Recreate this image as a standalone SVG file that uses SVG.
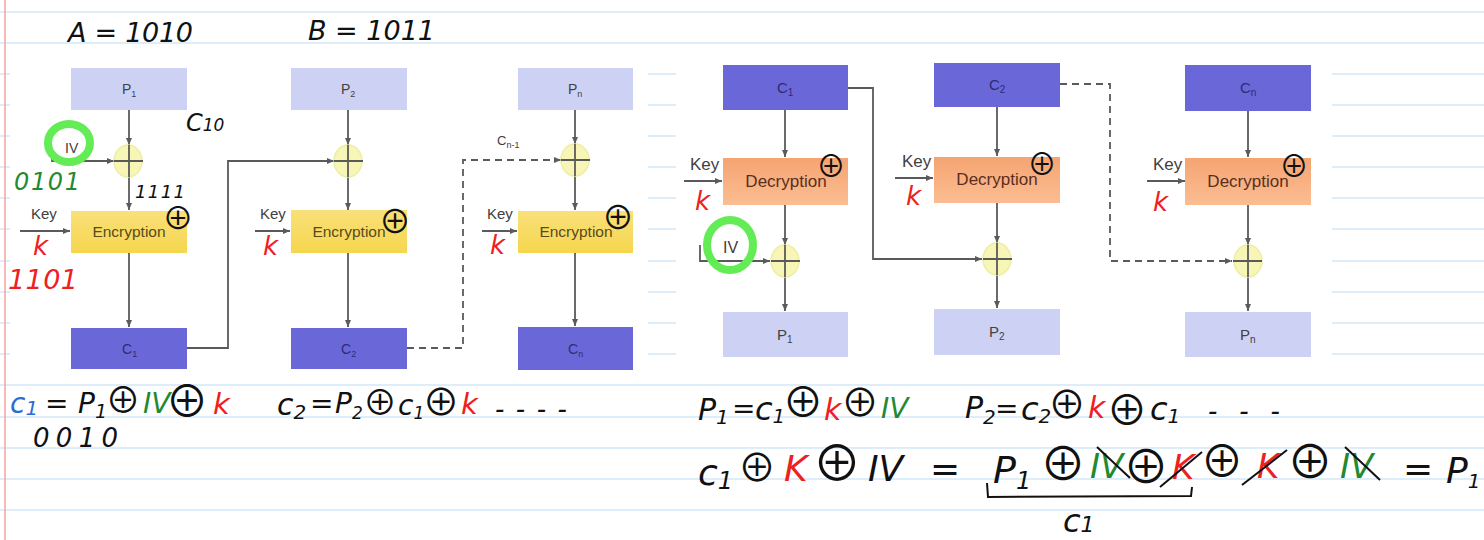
<svg xmlns="http://www.w3.org/2000/svg" width="1484" height="540" viewBox="0 0 1484 540">
<defs>
<marker id="arr" markerWidth="8" markerHeight="8" refX="7" refY="4" orient="auto" markerUnits="userSpaceOnUse"><path d="M0,1 L7,4 L0,7 Z" fill="#5a5a5a"/></marker>
<linearGradient id="gEnc" x1="0" y1="0" x2="0" y2="1"><stop offset="0" stop-color="#f9e07a"/><stop offset="1" stop-color="#f6d64e"/></linearGradient>
<linearGradient id="gDec" x1="0" y1="0" x2="0" y2="1"><stop offset="0" stop-color="#f5a472"/><stop offset="1" stop-color="#fbbd92"/></linearGradient>
<style>
.rule{stroke:#d2e9f8;stroke-width:1.5}
.bp{fill:#cdd2f5}
.bc{fill:#6a67d8}
.be{fill:url(#gEnc)}
.bd{fill:url(#gDec)}
.xe{fill:#f8f6b0;stroke:#ecec9a;stroke-width:1.5;opacity:0.9}
.c{stroke:#5a5a5a;stroke-width:1.8;fill:none}
.cd{stroke:#5a5a5a;stroke-width:1.8;fill:none;stroke-dasharray:7,5}
.lb{font-family:"Liberation Sans",Arial,sans-serif;fill:#404040}
.lc{font-family:"Liberation Sans",Arial,sans-serif;fill:#2e2c6e}
.le{font-family:"Liberation Sans",Arial,sans-serif;font-size:15.5px;fill:#5a4a1c}
.ld{font-family:"Liberation Sans",Arial,sans-serif;font-size:17px;fill:#5a2e1e}
.hw{font-family:"DejaVu Sans",sans-serif;font-style:italic;fill:#111}
.ox{font-family:"Noto Sans CJK SC","DejaVu Sans",sans-serif;fill:#111;text-anchor:middle}
.red{fill:#ee2020}
.grn{fill:#1f8a33}
.blu{fill:#2e6bd1}
.hl{fill:none;stroke:#63ec55;stroke-width:8}
.st{stroke:#111;stroke-width:2;fill:none}
</style>
</defs>
<rect x="0" y="0" width="1484" height="540" fill="#ffffff"/>
<g id="page">
<g id="rules">
<line class="rule" x1="0" y1="12" x2="1484" y2="12"/>
<line class="rule" x1="0" y1="43" x2="1484" y2="43"/>
<line class="rule" x1="0" y1="74" x2="1484" y2="74"/>
<line class="rule" x1="0" y1="105" x2="1484" y2="105"/>
<line class="rule" x1="0" y1="136" x2="1484" y2="136"/>
<line class="rule" x1="0" y1="167" x2="1484" y2="167"/>
<line class="rule" x1="0" y1="198" x2="1484" y2="198"/>
<line class="rule" x1="0" y1="229" x2="1484" y2="229"/>
<line class="rule" x1="0" y1="261" x2="1484" y2="261"/>
<line class="rule" x1="0" y1="292" x2="1484" y2="292"/>
<line class="rule" x1="0" y1="323" x2="1484" y2="323"/>
<line class="rule" x1="0" y1="354" x2="1484" y2="354"/>
<line class="rule" x1="0" y1="385" x2="1484" y2="385"/>
<line class="rule" x1="0" y1="417" x2="1484" y2="417"/>
<line class="rule" x1="0" y1="448" x2="1484" y2="448"/>
<line class="rule" x1="0" y1="479" x2="1484" y2="479"/>
<line class="rule" x1="0" y1="510" x2="1484" y2="510"/>
</g>
<rect x="10" y="52" width="638" height="320" fill="#ffffff"/>
<rect x="676" y="50" width="656" height="322" fill="#ffffff"/>
<line x1="5" y1="0" x2="5" y2="540" stroke="#f4a3a3" stroke-width="1.5"/>
</g>

<g id="connectors">
<path class="c" d="M129,110 V145" marker-end="url(#arr)"/>
<path class="c" d="M129,177 V210" marker-end="url(#arr)"/>
<path class="c" d="M129,253 V327" marker-end="url(#arr)"/>
<path class="c" d="M52,148 V161 H114" marker-end="url(#arr)"/>
<path class="c" d="M20,231 H70" marker-end="url(#arr)"/>
<path class="c" d="M187,348 H228 V161 H334" marker-end="url(#arr)"/>
<path class="c" d="M348,110 V145" marker-end="url(#arr)"/>
<path class="c" d="M348,177 V210" marker-end="url(#arr)"/>
<path class="c" d="M348,253 V327" marker-end="url(#arr)"/>
<path class="c" d="M255,231 H290" marker-end="url(#arr)"/>
<path class="cd" d="M407,348 H463 V160 H561" marker-end="url(#arr)"/>
<path class="c" d="M575,110 V144" marker-end="url(#arr)"/>
<path class="c" d="M575,176 V210" marker-end="url(#arr)"/>
<path class="c" d="M575,253 V326" marker-end="url(#arr)"/>
<path class="c" d="M482,231 H517" marker-end="url(#arr)"/>

<path class="c" d="M785,110 V157" marker-end="url(#arr)"/>
<path class="c" d="M785,205 V245" marker-end="url(#arr)"/>
<path class="c" d="M785,277 V311" marker-end="url(#arr)"/>
<path class="c" d="M700,245 V261 H770" marker-end="url(#arr)"/>
<path class="c" d="M684,181 H722" marker-end="url(#arr)"/>
<path class="c" d="M848,88 H873 V259 H982" marker-end="url(#arr)"/>
<path class="c" d="M997,107 V156" marker-end="url(#arr)"/>
<path class="c" d="M997,203 V243" marker-end="url(#arr)"/>
<path class="c" d="M997,275 V308" marker-end="url(#arr)"/>
<path class="c" d="M895,178 H933" marker-end="url(#arr)"/>
<path class="cd" d="M1060,84 H1110 V261 H1232" marker-end="url(#arr)"/>
<path class="c" d="M1248,111 V157" marker-end="url(#arr)"/>
<path class="c" d="M1248,205 V245" marker-end="url(#arr)"/>
<path class="c" d="M1248,277 V311" marker-end="url(#arr)"/>
<path class="c" d="M1147,181 H1185" marker-end="url(#arr)"/>
</g>

<g id="enc-p1"><rect class="bp" x="71" y="68" width="116" height="42"/><text class="lb" x="122" y="94" font-size="14">P<tspan font-size="9" dy="3">1</tspan></text></g>
<g id="enc-p2"><rect class="bp" x="291" y="68" width="116" height="42"/><text class="lb" x="341" y="94" font-size="14">P<tspan font-size="9" dy="3">2</tspan></text></g>
<g id="enc-pn"><rect class="bp" x="518" y="68" width="115" height="42"/><text class="lb" x="568" y="94" font-size="14">P<tspan font-size="9" dy="3">n</tspan></text></g>
<g id="enc-x1"><ellipse class="xe" cx="128" cy="161" rx="14" ry="16"/><path class="c" d="M114,161 H143 M129,145 V177"/></g>
<g id="enc-x2"><ellipse class="xe" cx="348" cy="161" rx="14" ry="16"/><path class="c" d="M334,161 H363 M348,145 V177"/></g>
<g id="enc-xn"><ellipse class="xe" cx="575" cy="160" rx="14" ry="16"/><path class="c" d="M561,160 H590 M575,144 V176"/></g>
<g id="enc-e1"><rect class="be" x="71" y="211" width="116" height="42"/><text class="le" x="129" y="237" text-anchor="middle">Encryption</text></g>
<g id="enc-e2"><rect class="be" x="291" y="210" width="116" height="43"/><text class="le" x="349" y="237" text-anchor="middle">Encryption</text></g>
<g id="enc-en"><rect class="be" x="518" y="211" width="115" height="42"/><text class="le" x="576" y="237" text-anchor="middle">Encryption</text></g>
<g id="enc-c1"><rect class="bc" x="71" y="328" width="116" height="41"/><text class="lc" x="122" y="354" font-size="14">C<tspan font-size="9" dy="3">1</tspan></text></g>
<g id="enc-c2"><rect class="bc" x="291" y="328" width="116" height="41"/><text class="lc" x="341" y="354" font-size="14">C<tspan font-size="9" dy="3">2</tspan></text></g>
<g id="enc-cn"><rect class="bc" x="518" y="327" width="115" height="43"/><text class="lc" x="568" y="354" font-size="14">C<tspan font-size="9" dy="3">n</tspan></text></g>
<g id="enc-labels">
<text class="lb" x="65" y="153" font-size="14">IV</text>
<text class="lb" x="31" y="219" font-size="15">Key</text>
<text class="lb" x="260" y="219" font-size="15">Key</text>
<text class="lb" x="487" y="219" font-size="15">Key</text>
<text class="lb" x="497" y="145" font-size="13">C<tspan font-size="9" dy="3">n-1</tspan></text>
</g>

<g id="dec-c1"><rect class="bc" x="723" y="65" width="125" height="45"/><text class="lc" x="777" y="93" font-size="15">C<tspan font-size="10" dy="3">1</tspan></text></g>
<g id="dec-c2"><rect class="bc" x="934" y="63" width="126" height="44"/><text class="lc" x="989" y="90" font-size="15">C<tspan font-size="10" dy="3">2</tspan></text></g>
<g id="dec-cn"><rect class="bc" x="1185" y="65" width="126" height="46"/><text class="lc" x="1240" y="93" font-size="15">C<tspan font-size="10" dy="3">n</tspan></text></g>
<g id="dec-d1"><rect class="bd" x="723" y="158" width="125" height="47"/><text class="ld" x="786" y="187" text-anchor="middle">Decryption</text></g>
<g id="dec-d2"><rect class="bd" x="934" y="157" width="126" height="46"/><text class="ld" x="997" y="185" text-anchor="middle">Decryption</text></g>
<g id="dec-dn"><rect class="bd" x="1185" y="158" width="126" height="47"/><text class="ld" x="1248" y="187" text-anchor="middle">Decryption</text></g>
<g id="dec-x1"><ellipse class="xe" cx="785" cy="261" rx="14" ry="16"/><path class="c" d="M771,261 H800 M785,245 V277"/></g>
<g id="dec-x2"><ellipse class="xe" cx="997" cy="259" rx="14" ry="16"/><path class="c" d="M983,259 H1012 M997,243 V275"/></g>
<g id="dec-xn"><ellipse class="xe" cx="1248" cy="261" rx="14" ry="16"/><path class="c" d="M1233,261 H1262 M1248,245 V277"/></g>
<g id="dec-p1"><rect class="bp" x="723" y="312" width="125" height="45"/><text class="lb" x="777" y="340" font-size="15">P<tspan font-size="10" dy="3">1</tspan></text></g>
<g id="dec-p2"><rect class="bp" x="934" y="309" width="126" height="46"/><text class="lb" x="989" y="337" font-size="15">P<tspan font-size="10" dy="3">2</tspan></text></g>
<g id="dec-pn"><rect class="bp" x="1185" y="312" width="126" height="45"/><text class="lb" x="1240" y="340" font-size="15">P<tspan font-size="10" dy="3">n</tspan></text></g>
<g id="dec-labels">
<text class="lb" x="723" y="253" font-size="16">IV</text>
<text class="lb" x="690" y="170" font-size="17">Key</text>
<text class="lb" x="902" y="167" font-size="17">Key</text>
<text class="lb" x="1153" y="170" font-size="17">Key</text>
</g>

<g id="notes-top">
<text class="hw" x="68" y="42" font-size="27" textLength="125">A = 1010</text>
<text class="hw" x="308" y="40" font-size="27" textLength="127">B = 1011</text>
<text class="hw" x="186" y="131" font-size="24">C<tspan font-size="17">10</tspan></text>
<ellipse class="hl" cx="69" cy="143" rx="21" ry="19"/>
<ellipse class="hl" cx="730" cy="245" rx="23" ry="25"/>
<text class="hw grn" x="14" y="190" font-size="24" textLength="66">0101</text>
<text class="hw" x="135" y="198" font-size="18" textLength="50">1111</text>
<text class="hw red" x="33" y="255" font-size="26">k</text>
<text class="hw red" x="263" y="255" font-size="26">k</text>
<text class="hw red" x="490" y="254" font-size="26">k</text>
<text class="hw red" x="8" y="289" font-size="27" textLength="70">1101</text>
<text class="ox" x="178" y="229" font-size="31">⊕</text>
<text class="ox" x="395" y="233" font-size="32">⊕</text>
<text class="ox" x="618" y="229" font-size="32">⊕</text>
<text class="hw red" x="695" y="210" font-size="26">k</text>
<text class="hw red" x="906" y="205" font-size="26">k</text>
<text class="hw red" x="1153" y="211" font-size="26">k</text>
<text class="ox" x="831" y="177" font-size="29">⊕</text>
<text class="ox" x="1042" y="175" font-size="29">⊕</text>
<text class="ox" x="1294" y="177" font-size="29">⊕</text>
</g>

<g id="formula-c1">
<text class="hw blu" x="10" y="413" font-size="28">c<tspan font-size="20" dy="2">1</tspan></text>
<text class="hw" x="45" y="413" font-size="28">=</text>
<text class="hw" x="78" y="413" font-size="28">P<tspan font-size="19" dy="5">1</tspan></text>
<text class="ox" x="123" y="413" font-size="35">⊕</text>
<text class="hw grn" x="143" y="413" font-size="28">IV</text>
<text class="ox" x="187" y="417" font-size="43">⊕</text>
<text class="hw red" x="213" y="414" font-size="29">k</text>
<text class="hw" x="33" y="447" font-size="26" textLength="85">0010</text>
</g>
<g id="formula-c2">
<text class="hw" x="277" y="415" font-size="30">c<tspan font-size="20" dy="4">2</tspan></text>
<text class="hw" x="310" y="413" font-size="28">=</text>
<text class="hw" x="335" y="413" font-size="28">P<tspan font-size="17" dy="6">2</tspan></text>
<text class="ox" x="380" y="415" font-size="34">⊕</text>
<text class="hw" x="398" y="415" font-size="28">c<tspan font-size="17" dy="4">1</tspan></text>
<text class="ox" x="441" y="416" font-size="37">⊕</text>
<text class="hw red" x="461" y="414" font-size="29">k</text>
<text class="hw" x="495" y="418" font-size="26" textLength="72">- - - -</text>
</g>
<g id="formula-p1">
<text class="hw" x="698" y="420" font-size="30">P<tspan font-size="20" dy="4">1</tspan></text>
<text class="hw" x="732" y="418" font-size="28">=</text>
<text class="hw" x="755" y="420" font-size="32">c<tspan font-size="20" dy="3">1</tspan></text>
<text class="ox" x="803" y="417" font-size="41">⊕</text>
<text class="hw red" x="824" y="420" font-size="30">k</text>
<text class="ox" x="860" y="416" font-size="38">⊕</text>
<text class="hw grn" x="881" y="418" font-size="28">IV</text>
</g>
<g id="formula-p2">
<text class="hw" x="965" y="418" font-size="30">P<tspan font-size="20" dy="6">2</tspan></text>
<text class="hw" x="995" y="418" font-size="28">=</text>
<text class="hw" x="1021" y="420" font-size="32">c<tspan font-size="20" dy="3">2</tspan></text>
<text class="ox" x="1067" y="418" font-size="38">⊕</text>
<text class="hw red" x="1088" y="418" font-size="30">k</text>
<text class="ox" x="1127" y="425" font-size="41">⊕</text>
<text class="hw" x="1150" y="420" font-size="32">c<tspan font-size="20" dy="3">1</tspan></text>
<text class="hw" x="1208" y="420" font-size="26" textLength="72">- - -</text>
</g>
<g id="formula-proof">
<text class="hw" x="698" y="485" font-size="36">c<tspan font-size="24" dy="4">1</tspan></text>
<text class="ox" x="757" y="481" font-size="38">⊕</text>
<text class="hw red" x="784" y="481" font-size="36">K</text>
<text class="ox" x="837" y="481" font-size="49">⊕</text>
<text class="hw" x="868" y="481" font-size="36">IV</text>
<text class="hw" x="930" y="481" font-size="36">=</text>
<text class="hw" x="993" y="483" font-size="38">P<tspan font-size="24" dy="6">1</tspan></text>
<text class="ox" x="1063" y="480" font-size="46">⊕</text>
<text class="hw grn" x="1090" y="478" font-size="34">IV</text>
<path class="st" d="M1097,447 L1130,478"/>
<text class="ox" x="1146" y="483" font-size="46">⊕</text>
<text class="hw red" x="1172" y="479" font-size="34">K</text>
<path class="st" d="M1160,487 L1202,452"/>
<text class="ox" x="1222" y="477" font-size="43">⊕</text>
<text class="hw red" x="1257" y="478" font-size="34">K</text>
<path class="st" d="M1242,485 L1287,450"/>
<text class="ox" x="1310" y="478" font-size="46">⊕</text>
<text class="hw grn" x="1340" y="478" font-size="34">IV</text>
<path class="st" d="M1345,447 L1380,480"/>
<text class="hw" x="1403" y="481" font-size="36">=</text>
<text class="hw" x="1446" y="483" font-size="36">P<tspan font-size="20" dy="5">1</tspan></text>
<path class="st" d="M987,483 L988,497 L1191,496 L1192,487"/>
<text class="hw" x="1063" y="532" font-size="32">c<tspan font-size="22">1</tspan></text>
</g>
</svg>
